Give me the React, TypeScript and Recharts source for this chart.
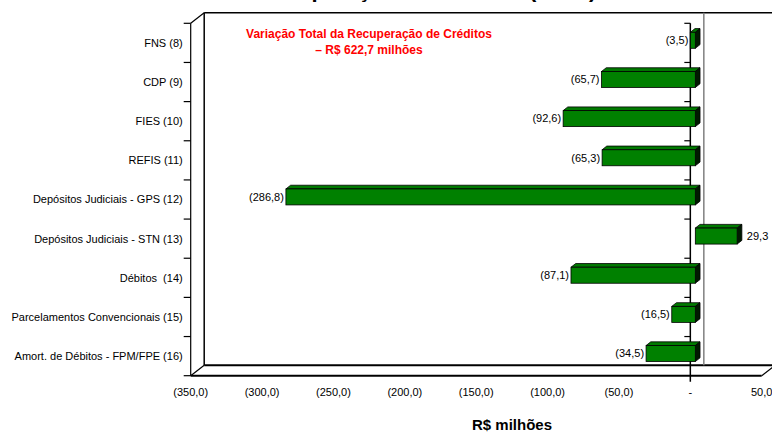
import { Bar, BarChart, LabelList, XAxis, YAxis } from 'recharts'

const categories = [
  'FNS (8)',
  'CDP (9)',
  'FIES (10)',
  'REFIS (11)',
  'Depósitos Judiciais - GPS (12)',
  'Depósitos Judiciais - STN (13)',
  'Débitos  (14)',
  'Parcelamentos Convencionais (15)',
  'Amort. de Débitos - FPM/FPE (16)',
]
const values = [-3.5, -65.7, -92.6, -65.3, -286.8, 29.3, -87.1, -16.5, -34.5]
const xTicks = [-350, -300, -250, -200, -150, -100, -50, 0, 50]

const data = categories.map((name, i) => ({ name, value: values[i] }))

const W = 772
const H = 432
// front plane of the 3d box
const FL = 190.7
const FR = 761.7
const FT = 23.3
const FB = 375.7
// depth of the walls
const DX = 13.5
const DY = -10.5
// bars sit a bit inside the box
const BX = 5
const BY = -3
const BDX = 4.7
const BDY = -3.7

const FONT = '"Liberation Sans", Arial, sans-serif'
const X_MIN = -350
const X_MAX = 50
const zeroX = FL + ((0 - X_MIN) / (X_MAX - X_MIN)) * (FR - FL)
const band = (FB - FT) / categories.length

const fmt = (v: number) => {
  if (v === 0) return '-'
  const s = Math.abs(v).toFixed(1).replace('.', ',')
  return v < 0 ? `(${s})` : s
}

function Bar3D(props: any) {
  const { x, y, width, height } = props
  const x0 = Math.min(x, x + width) + BX
  const w = Math.abs(width)
  const y0 = y + BY
  const x1 = x0 + w
  return (
    <g>
      <polygon
        points={`${x0},${y0} ${x0 + BDX},${y0 + BDY} ${x1 + BDX},${y0 + BDY} ${x1},${y0}`}
        fill="#007a00"
        stroke="#000"
        strokeWidth={0.8}
      />
      <polygon
        points={`${x1},${y0} ${x1 + BDX},${y0 + BDY} ${x1 + BDX},${y0 + height + BDY} ${x1},${y0 + height}`}
        fill="#001a00"
        stroke="#000"
        strokeWidth={0.8}
      />
      <rect x={x0} y={y0} width={w} height={height} fill="#008000" stroke="#000" strokeWidth={0.8} />
    </g>
  )
}

function ValueLabel(props: any) {
  const { x, y, width, height, value } = props
  const x0 = Math.min(x, x + width) + BX
  const w = Math.abs(width)
  const cy = y + BY + height / 2
  const neg = value < 0
  return (
    <text
      x={neg ? x0 - 2 : x0 + w + BDX + 5}
      y={cy}
      dy="0.35em"
      textAnchor={neg ? 'end' : 'start'}
      fontSize={11}
      fontFamily={FONT}
      fill="#000"
    >
      {fmt(value)}
    </text>
  )
}

function CategoryTick(props: any) {
  const { x, y, payload } = props
  return (
    <text
      x={x}
      y={y}
      dy="0.35em"
      textAnchor="end"
      fontSize={11}
      fontFamily={FONT}
      fill="#000"
      style={{ whiteSpace: 'pre' }}
    >
      {payload.value}
    </text>
  )
}

function Frame() {
  const edges = categories.map((_, i) => FT + i * band).concat([FB])
  return (
    <svg width={W} height={H} style={{ position: 'absolute', left: 0, top: 0 }}>
      {/* back wall and floor */}
      <line x1={FL + DX} y1={FT + DY} x2={W + 10} y2={FT + DY} stroke="#000" strokeWidth={1.5} />
      <line x1={FL + DX} y1={FT + DY} x2={FL + DX} y2={FB + DY} stroke="#000" strokeWidth={1.5} />
      <line x1={FL + DX} y1={FB + DY} x2={FR + DX} y2={FB + DY} stroke="#000" strokeWidth={2} />
      <line x1={zeroX + DX} y1={FT + DY} x2={zeroX + DX} y2={FB + DY} stroke="#808080" strokeWidth={1.5} />
      {/* left wall */}
      <line x1={FL} y1={FT} x2={FL} y2={FB} stroke="#000" strokeWidth={1.2} />
      <line x1={FL} y1={FT} x2={FL + DX} y2={FT + DY} stroke="#000" strokeWidth={1.2} />
      <line x1={FL} y1={FB} x2={FL + DX} y2={FB + DY} stroke="#000" strokeWidth={1.2} />
      {/* floor front */}
      <line x1={FL} y1={FB} x2={FR} y2={FB} stroke="#000" strokeWidth={2} />
      <line x1={FR} y1={FB} x2={FR + DX} y2={FB + DY} stroke="#000" strokeWidth={1.2} />
      {/* category axis at zero */}
      <line x1={zeroX} y1={FT} x2={zeroX} y2={FB + 6} stroke="#000" strokeWidth={1.5} />
      {edges.map((ey, i) => (
        <g key={i}>
          <line x1={FL - 7} y1={ey} x2={FL} y2={ey} stroke="#000" strokeWidth={1.2} />
          {i < categories.length && <line x1={zeroX - 6} y1={ey} x2={zeroX} y2={ey} stroke="#000" strokeWidth={1.2} />}
        </g>
      ))}
    </svg>
  )
}

export default function App() {
  return (
    <div style={{ position: 'absolute', left: 0, top: 0, width: W, height: H, background: '#fff', overflow: 'hidden' }}>
      <Frame />
      <div style={{ position: 'absolute', left: 0, top: 0 }}>
        <BarChart
          width={W}
          height={H}
          data={data}
          layout="vertical"
          margin={{ top: FT, right: W - FR, bottom: 0, left: 0 }}
          barSize={16}
        >
          <XAxis
            type="number"
            domain={[X_MIN, X_MAX]}
            ticks={xTicks}
            interval={0}
            allowDataOverflow
            height={H - FB}
            axisLine={false}
            tickLine={false}
            tickSize={0}
            tickMargin={12}
            tickFormatter={fmt}
            tick={{ fill: '#000', fontSize: 11, fontFamily: FONT }}
          />
          <YAxis
            type="category"
            dataKey="name"
            width={FL}
            axisLine={false}
            tickLine={false}
            tickSize={0}
            tickMargin={8}
            interval={0}
            tick={<CategoryTick />}
          />
          <Bar dataKey="value" fill="#008000" shape={Bar3D} isAnimationActive={false}>
            <LabelList dataKey="value" content={ValueLabel} />
          </Bar>
          <text x={427} y={-3} textAnchor="middle" fontSize={22} fontWeight="bold" fontFamily={FONT} fill="#000">
            Recuperação de Créditos (R$ M)
          </text>
          <text x={369} y={37.5} textAnchor="middle" fontSize={12} fontWeight="bold" fontFamily={FONT} fill="#ff0000">
            Variação Total da Recuperação de Créditos
          </text>
          <text x={369} y={53.5} textAnchor="middle" fontSize={12} fontWeight="bold" fontFamily={FONT} fill="#ff0000">
            – R$ 622,7 milhões
          </text>
          <text x={512} y={430} textAnchor="middle" fontSize={15} fontWeight="bold" fontFamily={FONT} fill="#000">
            R$ milhões
          </text>
        </BarChart>
      </div>
    </div>
  )
}
